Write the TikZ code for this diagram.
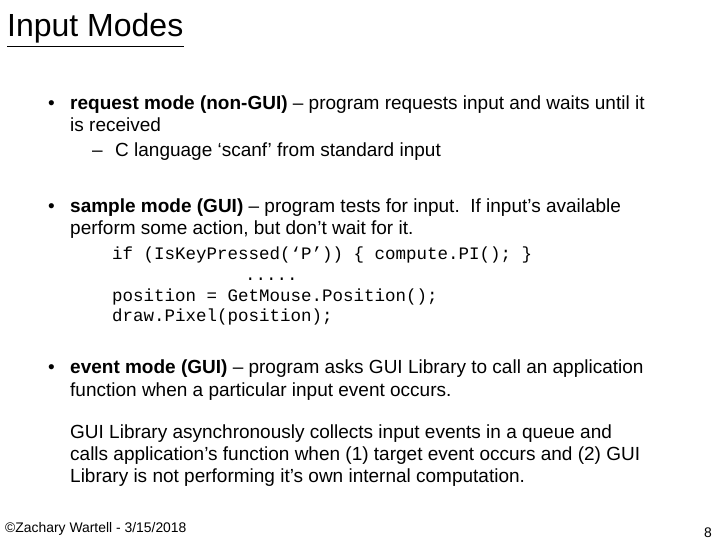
\documentclass[tikz,border=0pt]{standalone}
\usepackage{fontspec}
\setmainfont{Liberation Sans}
\newfontfamily\codefont{Liberation Mono}
\begin{document}
\begin{tikzpicture}[x=1pt,y=-1pt,
  txt/.style={anchor=base west,inner sep=0pt,font=\fontsize{19}{22}\selectfont},
  code/.style={anchor=base west,inner sep=0pt,font=\codefont\fontsize{17.5}{20}\selectfont},
  foot/.style={anchor=base west,inner sep=0pt,font=\fontsize{13.9}{16}\selectfont}]
\useasboundingbox (0,0) rectangle (720,540);
\node[anchor=base west,inner sep=0pt,font=\fontsize{32}{36}\selectfont] (title) at (7,37) {Input Modes};
\draw[line width=1.2pt] ([yshift=-3pt]title.south west) -- ([yshift=-3pt]title.south east);
\node[txt] (b1) at (48,110) {•};
\node[txt] (l1) at (70,110) {\textbf{request mode (non-GUI)} -- program requests input and waits until it};
\node[txt] (l2) at (70,132) {is received};
\node[txt] (d1) at (92,157) {--};
\node[txt] (l3) at (115,157) {C language ‘scanf’ from standard input};
\node[txt] (b2) at (48,212) {•};
\node[txt] (l4) at (70,212) {\textbf{sample mode (GUI)} -- program tests for input.\ \ If input’s available};
\node[txt] (l5) at (70,234) {perform some action, but don’t wait for it.};
\node[code] (c1) at (112,259) {if (IsKeyPressed(‘P’)) \{ compute.PI(); \}};
\node[code] (c2) at (245,280) {.....};
\node[code] (c3) at (112,301) {position = GetMouse.Position();};
\node[code] (c4) at (112,321) {draw.Pixel(position);};
\node[txt] (b3) at (48,373) {•};
\node[txt] (l6) at (70,373) {\textbf{event mode (GUI)} -- program asks GUI Library to call an application};
\node[txt] (l7) at (70,396) {function when a particular input event occurs.};
\node[txt] (l8) at (70,438) {GUI Library asynchronously collects input events in a queue and};
\node[txt] (l9) at (70,460) {calls application’s function when (1) target event occurs and (2) GUI};
\node[txt] (l10) at (70,482) {Library is not performing it’s own internal computation.};
\node[foot] (f) at (5,532) {©Zachary Wartell - 3/15/2018};
\node[foot] (p) at (704,537) {8};
\end{tikzpicture}
\end{document}
